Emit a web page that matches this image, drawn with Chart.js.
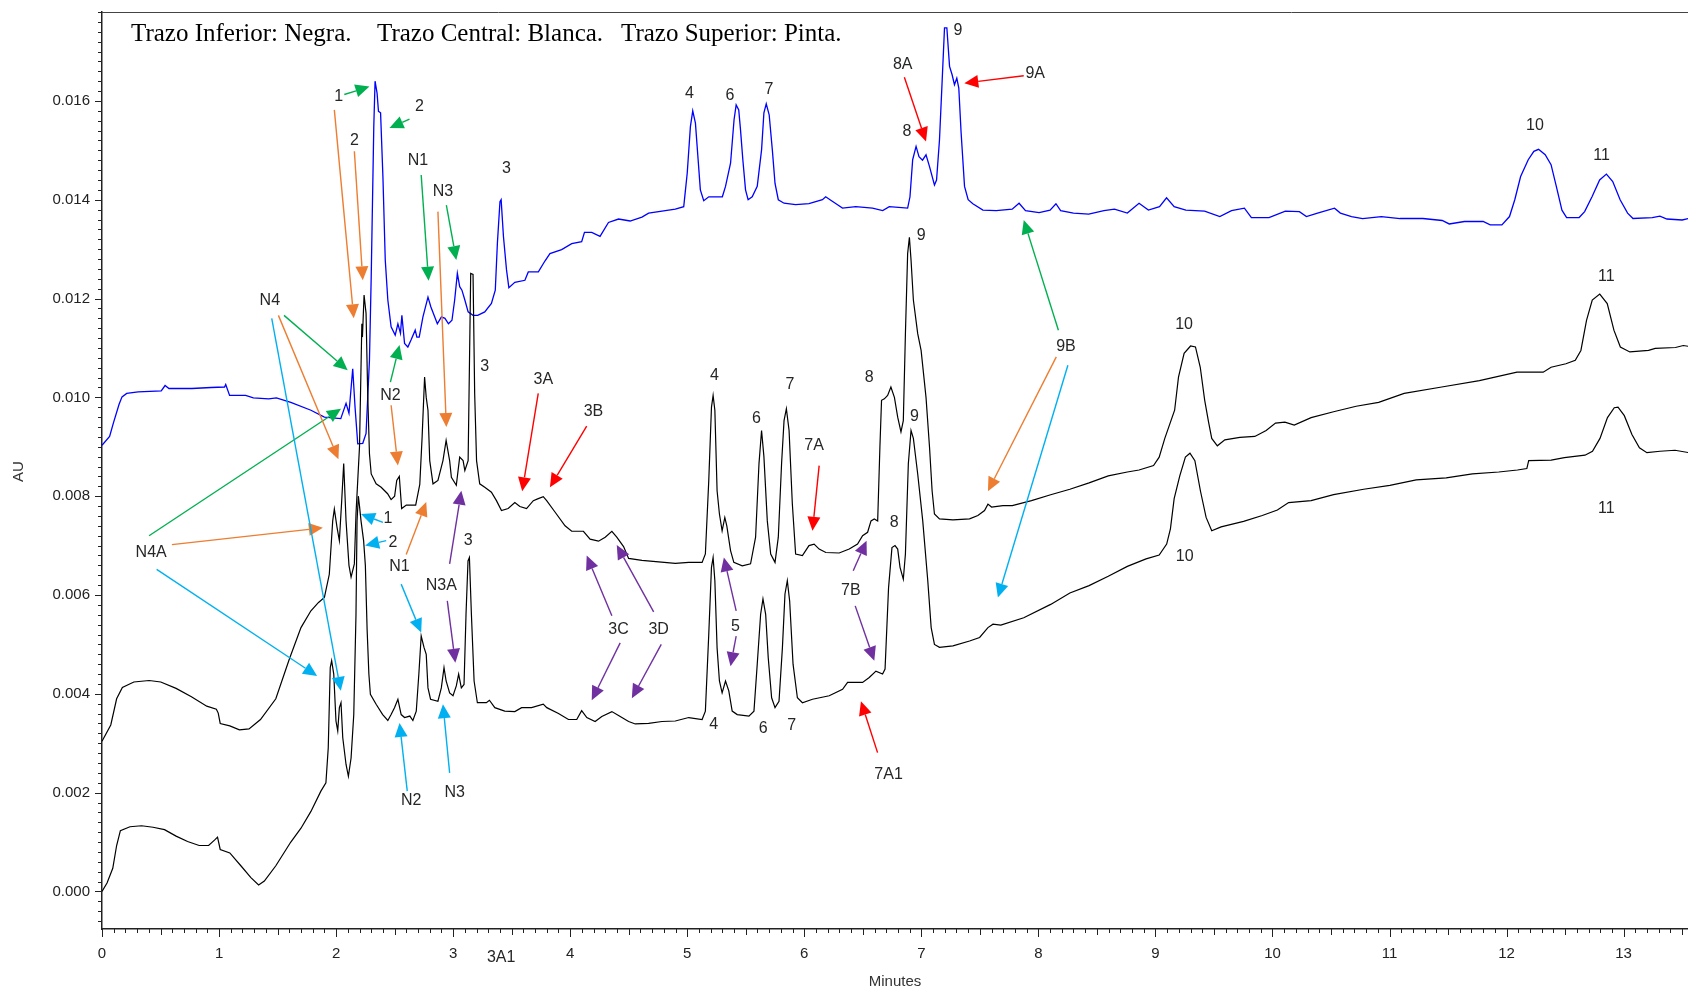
<!DOCTYPE html>
<html>
<head>
<meta charset="utf-8">
<title>Cromatograma</title>
<script src="https://cdn.jsdelivr.net/npm/chart.js@4.4.0/dist/chart.umd.min.js"></script>
<style>
  html, body { margin: 0; padding: 0; background: #fff; }
  #wrap { width: 1688px; height: 991px; }
</style>
</head>
<body>
<div id="wrap"><canvas id="chroma" width="1688" height="991"></canvas></div>
<script>
// Chromatogram of three samples: Negra (lower), Blanca (central), Pinta (upper)
// values: [minutes, AU]

const pintaTrace = [
  [0,0.00903],[0.065,0.00921],[0.097,0.00948],[0.146,0.00986],[0.171,0.01001],[0.211,0.01008],
  [0.309,0.01011],[0.506,0.01013],[0.539,0.01024],[0.572,0.01018],[0.768,0.01018],[0.932,0.0102],
  [1.047,0.01021],[1.057,0.01026],[1.09,0.01004],[1.227,0.01004],[1.293,0.00999],[1.424,0.00997],
  [1.49,0.00999],[1.613,0.0099],[1.785,0.00974],[1.9,0.0096],[2.04,0.00957],[2.085,0.00988],
  [2.11,0.00968],[2.142,0.01058],[2.162,0.0098],[2.185,0.00906],[2.228,0.00907],[2.256,0.00927],
  [2.285,0.01075],[2.3,0.01244],[2.322,0.01548],[2.333,0.0164],[2.35,0.01616],[2.362,0.01579],
  [2.38,0.01576],[2.4,0.01447],[2.42,0.01278],[2.442,0.01197],[2.47,0.01143],[2.505,0.01126],
  [2.528,0.01149],[2.55,0.0113],[2.562,0.01166],[2.585,0.01109],[2.613,0.01102],[2.64,0.01116],
  [2.676,0.01136],[2.69,0.01122],[2.71,0.01122],[2.742,0.01163],[2.785,0.01203],[2.81,0.01183],
  [2.842,0.01163],[2.865,0.01149],[2.9,0.01163],[2.93,0.0116],[2.96,0.01149],[2.99,0.01156],
  [3.013,0.01197],[3.036,0.01251],[3.056,0.01224],[3.075,0.01217],[3.1,0.01197],[3.128,0.01173],
  [3.17,0.01166],[3.21,0.01166],[3.27,0.01173],[3.327,0.0119],[3.36,0.01217],[3.378,0.01312],
  [3.4,0.01396],[3.41,0.014],[3.43,0.01325],[3.456,0.01258],[3.476,0.01222],[3.527,0.01233],
  [3.613,0.01237],[3.642,0.01254],[3.728,0.01254],[3.784,0.01276],[3.827,0.01291],[3.927,0.01299],
  [4.013,0.01311],[4.098,0.01315],[4.122,0.01334],[4.184,0.01334],[4.255,0.01326],[4.327,0.01354],
  [4.413,0.01361],[4.512,0.01357],[4.613,0.01365],[4.67,0.01373],[4.784,0.01377],[4.898,0.01381],
  [4.97,0.01386],[5.0,0.01454],[5.027,0.01548],[5.047,0.0158],[5.07,0.01555],[5.093,0.01481],
  [5.112,0.0142],[5.141,0.01398],[5.184,0.01406],[5.3,0.01406],[5.327,0.01427],[5.37,0.01474],
  [5.4,0.01562],[5.418,0.01592],[5.44,0.01582],[5.455,0.01542],[5.475,0.01481],[5.498,0.0142],
  [5.52,0.014],[5.555,0.01406],[5.598,0.01427],[5.635,0.01501],[5.655,0.01576],[5.675,0.01594],
  [5.7,0.01572],[5.727,0.01501],[5.75,0.01433],[5.778,0.014],[5.827,0.01393],[5.926,0.0139],
  [6.04,0.01392],[6.155,0.014],[6.183,0.01406],[6.22,0.014],[6.284,0.0139],[6.326,0.01383],
  [6.44,0.01386],[6.583,0.01383],[6.67,0.01378],[6.726,0.01386],[6.883,0.01383],[6.903,0.01406],
  [6.926,0.01481],[6.955,0.01508],[6.98,0.01487],[7.01,0.0148],[7.04,0.01491],[7.07,0.01467],
  [7.112,0.0143],[7.13,0.0144],[7.155,0.01521],[7.177,0.01636],[7.198,0.01748],[7.218,0.01748],
  [7.241,0.0167],[7.263,0.01653],[7.283,0.01633],[7.303,0.01646],[7.32,0.01626],[7.34,0.01535],
  [7.369,0.01427],[7.4,0.014],[7.44,0.01392],[7.526,0.01379],[7.64,0.01378],[7.776,0.01381],
  [7.835,0.01393],[7.89,0.01378],[8.006,0.01374],[8.1,0.01379],[8.15,0.01392],[8.19,0.01378],
  [8.3,0.01373],[8.43,0.01371],[8.56,0.01378],[8.65,0.01381],[8.76,0.01373],[8.86,0.01393],
  [8.94,0.01379],[9.035,0.01386],[9.095,0.01404],[9.16,0.01386],[9.26,0.01379],[9.42,0.01377],
  [9.55,0.01366],[9.65,0.01378],[9.76,0.01383],[9.82,0.01364],[9.97,0.01364],[10.11,0.01377],
  [10.23,0.01376],[10.29,0.01366],[10.385,0.01373],[10.53,0.01383],[10.58,0.01373],[10.675,0.01366],
  [10.77,0.01362],[10.93,0.01366],[11.09,0.01362],[11.285,0.01362],[11.45,0.01358],[11.51,0.01351],
  [11.64,0.01356],[11.8,0.01356],[11.86,0.01349],[11.96,0.01349],[12.025,0.01366],[12.07,0.014],
  [12.12,0.01447],[12.185,0.01481],[12.233,0.01498],[12.273,0.01502],[12.33,0.01491],[12.38,0.01471],
  [12.425,0.01427],[12.473,0.01379],[12.513,0.01364],[12.62,0.01364],[12.667,0.01376],[12.73,0.01406],
  [12.795,0.0144],[12.853,0.01452],[12.907,0.01437],[12.97,0.014],[13.034,0.01373],[13.08,0.01362],
  [13.245,0.01364],[13.31,0.01367],[13.37,0.01361],[13.5,0.01359],[13.59,0.01364]
];

const blancaTrace = [
  [0,0.00304],[0.075,0.00337],[0.125,0.0039],[0.174,0.00413],[0.272,0.00424],[0.403,0.00427],
  [0.502,0.00424],[0.633,0.00411],[0.764,0.00394],[0.895,0.00375],[0.977,0.00369],[0.993,0.00361],
  [1.01,0.0034],[1.092,0.00335],[1.174,0.00327],[1.256,0.00329],[1.354,0.00348],[1.485,0.0039],
  [1.6,0.0047],[1.7,0.00534],[1.785,0.00568],[1.85,0.00585],[1.9,0.00595],[1.942,0.00642],
  [1.971,0.0075],[1.985,0.00774],[2.008,0.00737],[2.028,0.0071],[2.048,0.00791],[2.065,0.00866],
  [2.085,0.0075],[2.11,0.0066],[2.128,0.00636],[2.156,0.00663],[2.17,0.00764],[2.185,0.00832],
  [2.2,0.009],[2.212,0.0105],[2.22,0.01149],[2.225,0.01122],[2.239,0.01207],[2.256,0.0117],
  [2.27,0.01007],[2.285,0.00886],[2.3,0.00845],[2.342,0.00825],[2.385,0.00818],[2.44,0.00805],
  [2.47,0.00793],[2.5,0.008],[2.518,0.00832],[2.54,0.0084],[2.56,0.00775],[2.6,0.00782],
  [2.68,0.00782],[2.715,0.00824],[2.735,0.0092],[2.756,0.01041],[2.77,0.01],[2.785,0.00974],
  [2.8,0.00872],[2.828,0.00825],[2.87,0.00832],[2.913,0.00872],[2.94,0.00913],[2.97,0.00872],
  [2.985,0.00838],[3.027,0.00822],[3.056,0.00879],[3.085,0.00872],[3.1,0.00852],[3.128,0.00872],
  [3.15,0.01251],[3.17,0.01249],[3.184,0.01007],[3.2,0.00872],[3.227,0.00825],[3.27,0.00818],
  [3.327,0.00808],[3.37,0.00791],[3.413,0.00771],[3.47,0.00775],[3.527,0.00787],[3.57,0.00779],
  [3.627,0.00775],[3.685,0.00791],[3.727,0.00795],[3.77,0.00799],[3.799,0.00791],[3.87,0.00768],
  [3.956,0.0074],[4.013,0.00729],[4.113,0.00729],[4.17,0.00713],[4.242,0.00709],[4.299,0.00717],
  [4.356,0.00729],[4.398,0.00717],[4.456,0.00698],[4.499,0.00674],[4.613,0.0067],[4.756,0.00667],
  [4.898,0.00664],[5.013,0.00666],[5.127,0.00666],[5.155,0.00683],[5.184,0.00832],[5.207,0.0098],
  [5.221,0.01004],[5.236,0.00974],[5.255,0.00811],[5.275,0.00764],[5.298,0.0073],[5.321,0.00757],
  [5.338,0.0074],[5.37,0.0069],[5.398,0.00666],[5.47,0.00659],[5.541,0.00663],[5.584,0.00717],
  [5.613,0.00866],[5.635,0.00933],[5.655,0.0088],[5.684,0.0075],[5.713,0.00683],[5.75,0.00666],
  [5.778,0.00717],[5.806,0.00866],[5.827,0.00953],[5.847,0.00977],[5.87,0.00933],[5.898,0.00784],
  [5.926,0.00683],[5.984,0.0068],[6.04,0.007],[6.084,0.00703],[6.127,0.00693],[6.184,0.00686],
  [6.298,0.00685],[6.384,0.00693],[6.455,0.00703],[6.498,0.0072],[6.541,0.00727],[6.57,0.0075],
  [6.598,0.00754],[6.627,0.0075],[6.646,0.00899],[6.66,0.00994],[6.684,0.00997],[6.712,0.01004],
  [6.74,0.01021],[6.77,0.01],[6.798,0.0096],[6.826,0.0093],[6.846,0.00953],[6.864,0.01129],
  [6.883,0.01291],[6.898,0.01324],[6.912,0.01278],[6.932,0.01197],[6.969,0.01129],[6.998,0.01095],
  [7.04,0.01],[7.07,0.00899],[7.092,0.00811],[7.112,0.00764],[7.155,0.00754],[7.27,0.00752],
  [7.412,0.00754],[7.483,0.00761],[7.54,0.00771],[7.569,0.00784],[7.6,0.00778],[7.697,0.00781],
  [7.777,0.00781],[7.941,0.00791],[8.105,0.00803],[8.269,0.00814],[8.433,0.00827],[8.597,0.00841],
  [8.76,0.00849],[8.86,0.00853],[8.984,0.00862],[9.032,0.00879],[9.08,0.00917],[9.164,0.00974],
  [9.197,0.01041],[9.245,0.01089],[9.3,0.01104],[9.342,0.01102],[9.383,0.01061],[9.421,0.00994],
  [9.454,0.0095],[9.481,0.00917],[9.529,0.00902],[9.593,0.00914],[9.721,0.00919],[9.849,0.00921],
  [9.946,0.00933],[10.026,0.00948],[10.106,0.0095],[10.186,0.00944],[10.33,0.00959],[10.522,0.00971],
  [10.715,0.00982],[10.907,0.0099],[11.125,0.01008],[11.446,0.01021],[11.768,0.01034],[12.089,0.01051],
  [12.313,0.01051],[12.38,0.01061],[12.507,0.01068],[12.587,0.01075],[12.635,0.01095],[12.683,0.01156],
  [12.732,0.01197],[12.796,0.01209],[12.86,0.0119],[12.917,0.01136],[12.972,0.01102],[13.053,0.01092],
  [13.213,0.01095],[13.27,0.01099],[13.443,0.01101],[13.51,0.01105],[13.59,0.01102]
];

const negraTrace = [
  [0,0.0],[0.043,0.00017],[0.092,0.00047],[0.125,0.00093],[0.157,0.00123],[0.239,0.00131],
  [0.338,0.00133],[0.436,0.0013],[0.534,0.00125],[0.633,0.00112],[0.731,0.00101],[0.83,0.00093],
  [0.911,0.00093],[0.961,0.00104],[0.987,0.0011],[1.01,0.00085],[1.092,0.00078],[1.19,0.00051],
  [1.272,0.00028],[1.338,0.00013],[1.387,0.00021],[1.485,0.00052],[1.613,0.001],[1.7,0.00128],
  [1.785,0.00162],[1.87,0.00203],[1.913,0.0022],[1.933,0.00291],[1.95,0.00453],[1.962,0.00467],
  [1.98,0.0044],[1.999,0.00345],[2.014,0.00325],[2.028,0.00372],[2.042,0.00382],[2.057,0.00311],
  [2.085,0.00257],[2.105,0.00233],[2.128,0.0027],[2.151,0.00358],[2.17,0.00561],[2.179,0.0075],
  [2.19,0.008],[2.2,0.0078],[2.213,0.0075],[2.235,0.0071],[2.25,0.0066],[2.265,0.0053],
  [2.28,0.0044],[2.293,0.00399],[2.342,0.00379],[2.398,0.00358],[2.442,0.00346],[2.47,0.00358],
  [2.499,0.00372],[2.528,0.00389],[2.556,0.00358],[2.585,0.00352],[2.63,0.00355],[2.656,0.00346],
  [2.685,0.00365],[2.707,0.0044],[2.727,0.00517],[2.751,0.00494],[2.77,0.0048],[2.785,0.00412],
  [2.807,0.00389],[2.87,0.00385],[2.899,0.00412],[2.922,0.00453],[2.94,0.00426],[2.97,0.00402],
  [2.999,0.00396],[3.027,0.00416],[3.047,0.0044],[3.07,0.00412],[3.093,0.00419],[3.11,0.00561],
  [3.127,0.00669],[3.139,0.00676],[3.156,0.00561],[3.179,0.00426],[3.207,0.00382],[3.284,0.00382],
  [3.31,0.00387],[3.356,0.00372],[3.441,0.00365],[3.527,0.00364],[3.585,0.00372],[3.67,0.00372],
  [3.77,0.00379],[3.8,0.00372],[3.9,0.0036],[3.985,0.00348],[4.056,0.00348],[4.098,0.00366],
  [4.142,0.00352],[4.213,0.00344],[4.27,0.00354],[4.356,0.00364],[4.413,0.00356],[4.499,0.00344],
  [4.556,0.00339],[4.67,0.0034],[4.784,0.00344],[4.898,0.00345],[5.013,0.00352],[5.127,0.00348],
  [5.155,0.00365],[5.184,0.00521],[5.207,0.00656],[5.221,0.00676],[5.236,0.00629],[5.255,0.00493],
  [5.275,0.00426],[5.298,0.00402],[5.327,0.00426],[5.355,0.00406],[5.384,0.00365],[5.427,0.00358],
  [5.527,0.00355],[5.57,0.00365],[5.598,0.0046],[5.627,0.00561],[5.647,0.00592],[5.67,0.00561],
  [5.692,0.00473],[5.721,0.00392],[5.75,0.00372],[5.784,0.00385],[5.813,0.00493],[5.835,0.00602],
  [5.855,0.00629],[5.875,0.00588],[5.904,0.0046],[5.941,0.00392],[5.984,0.00382],[6.07,0.00389],
  [6.213,0.00396],[6.327,0.00409],[6.37,0.00423],[6.498,0.00423],[6.555,0.00433],[6.612,0.00446],
  [6.669,0.0044],[6.69,0.0045],[6.72,0.00615],[6.749,0.00696],[6.775,0.007],[6.798,0.00693],
  [6.818,0.00656],[6.846,0.00632],[6.864,0.00683],[6.889,0.00866],[6.912,0.00933],[6.932,0.00917],
  [6.969,0.00845],[7.012,0.0075],[7.055,0.00629],[7.084,0.00534],[7.112,0.005],[7.155,0.00494],
  [7.27,0.00497],[7.412,0.00507],[7.498,0.00514],[7.569,0.00534],[7.612,0.00541],[7.679,0.00539],
  [7.875,0.00554],[8.105,0.00581],[8.269,0.00604],[8.433,0.00619],[8.597,0.00638],[8.76,0.00658],
  [8.92,0.00673],[9.032,0.00681],[9.096,0.00703],[9.128,0.00734],[9.16,0.00795],[9.208,0.00841],
  [9.256,0.00879],[9.295,0.00887],[9.337,0.00872],[9.385,0.0081],[9.433,0.00757],[9.481,0.0073],
  [9.561,0.00738],[9.753,0.00749],[9.913,0.00761],[10.042,0.00772],[10.138,0.00787],[10.33,0.00791],
  [10.522,0.00803],[10.779,0.00814],[11.003,0.00822],[11.228,0.00833],[11.484,0.00837],[11.708,0.00845],
  [11.933,0.00849],[12.093,0.00853],[12.173,0.00856],[12.189,0.00872],[12.381,0.00873],[12.494,0.00878],
  [12.67,0.00883],[12.734,0.00891],[12.798,0.00917],[12.862,0.00959],[12.92,0.00979],[12.952,0.0098],
  [13.006,0.00963],[13.071,0.00925],[13.135,0.00898],[13.199,0.00888],[13.311,0.00891],[13.439,0.00893],
  [13.561,0.00888],[13.59,0.00889]
];

// peak labels: [text, minutes, AU] (text centre)
const peakLabels = [
  ['1',2.022,0.01608],['2',2.713,0.01589],['2',2.156,0.01519],['N1',2.699,0.01479],['N3',2.913,0.01416],
  ['3',3.456,0.01464],['N4',1.434,0.01196],['N2',2.464,0.01004],['3',3.27,0.01063],
  ['4',5.018,0.01614],['6',5.364,0.01611],['7',5.698,0.01623],['8A',6.841,0.01673],['8',6.877,0.01537],
  ['9',7.312,0.01742],['9A',7.973,0.01655],['10',12.243,0.0155],['11',12.811,0.01489],
  ['9',6.998,0.01327],['4',5.232,0.01045],['7',5.878,0.01026],['8',6.555,0.01041],['6',5.592,0.00957],
  ['7A',6.084,0.00903],['9',6.941,0.00961],['8',6.769,0.00747],['3A',3.77,0.01035],['3B',4.199,0.00971],
  ['9B',8.236,0.01102],['10',9.245,0.01148],['11',12.853,0.01245],
  ['N4A',0.42,0.00685],['1',2.442,0.00754],['2',2.485,0.00707],['N1',2.542,0.00657],['N3A',2.899,0.00619],
  ['3',3.128,0.0071],['3C',4.413,0.00531],['3D',4.756,0.00531],['5',5.412,0.00536],['7B',6.398,0.00609],
  ['4',5.227,0.00338],['6',5.65,0.0033],['7',5.892,0.00335],['7A1',6.72,0.00237],['N2',2.642,0.00183],
  ['N3',3.013,0.00201],['10',9.25,0.00677],['11',12.853,0.00774],['3A1',3.41,-0.00134]
];

// arrows: [fromMin, fromAU, toMin, toAU] (head at "to")
const greenArrows = [
  [2.07,0.01613,2.285,0.01629],[2.627,0.01563,2.456,0.01545],[2.727,0.0145,2.79,0.01236],
  [2.942,0.01389,3.027,0.01278],[2.464,0.01031,2.542,0.01106],[1.555,0.01166,2.099,0.01055],
  [0.402,0.0072,2.042,0.00977],[8.171,0.01136,7.875,0.01359]
];
const orangeArrows = [
  [2.156,0.01498,2.228,0.01237],[1.985,0.01582,2.151,0.0116],[2.87,0.01376,2.942,0.0094],
  [2.47,0.00984,2.528,0.00862],[1.507,0.01166,2.02,0.00875],[0.597,0.00702,1.887,0.00736],
  [2.599,0.00682,2.77,0.00788],[8.153,0.01082,7.569,0.0081]
];
const cyanArrows = [
  [1.45,0.0116,2.04,0.00406],[0.467,0.00652,1.838,0.00436],[2.4,0.00747,2.213,0.00764],
  [2.428,0.0071,2.248,0.007],[2.556,0.00622,2.727,0.00524],[2.608,0.00203,2.542,0.00341],
  [2.97,0.0024,2.913,0.00379],[8.252,0.01065,7.654,0.00595]
];
const redArrows = [
  [3.727,0.01008,3.59,0.0081],[4.141,0.00942,3.827,0.00818],[6.127,0.00862,6.07,0.0073],
  [6.855,0.01648,7.04,0.01518],[7.875,0.01651,7.367,0.01636],[6.626,0.00281,6.484,0.00385]
];
const purpleArrows = [
  [2.97,0.00663,3.07,0.00811],[2.95,0.00588,3.019,0.00463],[4.356,0.00558,4.141,0.0068],
  [4.427,0.00503,4.184,0.00387],[4.713,0.00566,4.398,0.00701],[4.778,0.005,4.527,0.00391],
  [5.418,0.00568,5.313,0.00676],[5.418,0.00517,5.37,0.00456],[6.418,0.00649,6.532,0.0071],
  [6.435,0.00578,6.598,0.00467]
];

const titleParts = ['Trazo Inferior: Negra.', 'Trazo Central: Blanca.', 'Trazo Superior: Pinta.'];

const X_MAX = 13.55;
const Y_MIN = -0.00076, Y_MAX = 0.0178;

function toXY(arr){ return arr.map(p => ({ x: p[0], y: p[1] })); }

function drawArrow(ctx, x1, y1, x2, y2, color){
  const ang = Math.atan2(y2 - y1, x2 - x1);
  const hl = 14, hw = 6.5;
  const bx = x2 - hl * Math.cos(ang), by = y2 - hl * Math.sin(ang);
  ctx.strokeStyle = color;
  ctx.lineWidth = 1.4;
  ctx.beginPath(); ctx.moveTo(x1, y1); ctx.lineTo(bx, by); ctx.stroke();
  ctx.fillStyle = color;
  ctx.beginPath();
  ctx.moveTo(x2, y2);
  ctx.lineTo(bx - hw * Math.sin(ang), by + hw * Math.cos(ang));
  ctx.lineTo(bx + hw * Math.sin(ang), by - hw * Math.cos(ang));
  ctx.closePath(); ctx.fill();
}

// extra drawing: minor ticks, frame, arrows, labels, titles
const chromaDecor = {
  id: 'chromaDecor',
  afterDraw(chart){
    const ctx = chart.ctx, xs = chart.scales.x, ys = chart.scales.y, area = chart.chartArea;
    ctx.save();

    // top frame line
    ctx.strokeStyle = '#444'; ctx.lineWidth = 1;
    ctx.beginPath(); ctx.moveTo(area.left, area.top + 0.5); ctx.lineTo(area.right, area.top + 0.5); ctx.stroke();

    // tick marks
    ctx.strokeStyle = '#222'; ctx.lineWidth = 1;
    for(let i = 0; i <= Math.floor(X_MAX * 10); i++){
      const px = Math.round(xs.getPixelForValue(i / 10)) + 0.5;
      const len = (i % 10 === 0) ? 8 : (i % 5 === 0 ? 6 : 4);
      ctx.beginPath(); ctx.moveTo(px, area.bottom); ctx.lineTo(px, area.bottom + len); ctx.stroke();
    }
    for(let i = Math.ceil(Y_MIN / 0.0002); i <= Math.floor(Y_MAX / 0.0002); i++){
      const py = Math.round(ys.getPixelForValue(i * 0.0002)) + 0.5;
      const len = (i % 10 === 0) ? 7 : 4;
      ctx.beginPath(); ctx.moveTo(area.left, py); ctx.lineTo(area.left - len, py); ctx.stroke();
    }

    // arrows
    const sets = [
      [greenArrows, '#00B050'], [orangeArrows, '#ED7D31'], [cyanArrows, '#00B0F0'],
      [redArrows, '#FF0000'], [purpleArrows, '#7030A0']
    ];
    sets.forEach(([list, color]) => {
      list.forEach(a => {
        drawArrow(ctx, xs.getPixelForValue(a[0]), ys.getPixelForValue(a[1]),
                       xs.getPixelForValue(a[2]), ys.getPixelForValue(a[3]), color);
      });
    });

    // peak labels
    ctx.fillStyle = '#262626';
    ctx.font = '16px "Liberation Sans", Arial, sans-serif';
    ctx.textAlign = 'center'; ctx.textBaseline = 'middle';
    peakLabels.forEach(l => {
      ctx.fillText(l[0], xs.getPixelForValue(l[1]), ys.getPixelForValue(l[2]));
    });

    // title inside plot
    ctx.fillStyle = '#000';
    ctx.font = '25px "Liberation Serif", "Times New Roman", serif';
    ctx.textAlign = 'left'; ctx.textBaseline = 'alphabetic';
    const offs = [29, 275, 519];
    titleParts.forEach((t, i) => ctx.fillText(t, area.left + offs[i], area.top + 29));

    // axis titles
    ctx.fillStyle = '#333';
    ctx.font = '15px "Liberation Sans", Arial, sans-serif';
    ctx.textAlign = 'center'; ctx.textBaseline = 'middle';
    ctx.fillText('Minutes', (area.left + area.right) / 2, area.bottom + 53);
    ctx.save();
    ctx.translate(19, ys.getPixelForValue(0.0085));
    ctx.rotate(-Math.PI / 2);
    ctx.fillText('AU', 0, 0);
    ctx.restore();

    ctx.restore();
  }
};

const ctx = document.getElementById('chroma').getContext('2d');
new Chart(ctx, {
  type: 'line',
  data: {
    datasets: [
      { label: 'Negra', data: toXY(negraTrace), borderColor: '#000', borderWidth: 1.2, pointRadius: 0, tension: 0 },
      { label: 'Blanca', data: toXY(blancaTrace), borderColor: '#000', borderWidth: 1.2, pointRadius: 0, tension: 0 },
      { label: 'Pinta', data: toXY(pintaTrace), borderColor: '#0000FF', borderWidth: 1.3, pointRadius: 0, tension: 0 }
    ]
  },
  options: {
    responsive: false,
    animation: false,
    layout: { padding: { top: 12, right: 0, bottom: 0, left: 0 } },
    plugins: { legend: { display: false }, tooltip: { enabled: false } },
    scales: {
      x: {
        type: 'linear', min: 0, max: X_MAX,
        grid: { display: false, drawTicks: false },
        border: { display: true, color: '#222', width: 1.5 },
        ticks: {
          stepSize: 1, includeBounds: false, autoSkip: false, maxRotation: 0, padding: 16,
          color: '#222', font: { family: 'Liberation Sans', size: 15 },
          callback: v => String(Math.round(v))
        },
        afterFit(s){ s.height = 62; s.paddingLeft = 0; s.paddingRight = 0; }
      },
      y: {
        type: 'linear', min: Y_MIN, max: Y_MAX,
        grid: { display: false, drawTicks: false },
        border: { display: true, color: '#222', width: 1.5 },
        ticks: {
          stepSize: 0.002, includeBounds: false, autoSkip: false, padding: 12,
          color: '#222', font: { family: 'Liberation Sans', size: 15 },
          callback: v => (Math.round(v / 0.002) * 0.002).toFixed(3)
        },
        afterFit(s){ s.width = 102; s.paddingTop = 0; s.paddingBottom = 0; }
      }
    }
  },
  plugins: [chromaDecor]
});
</script>
</body>
</html>
